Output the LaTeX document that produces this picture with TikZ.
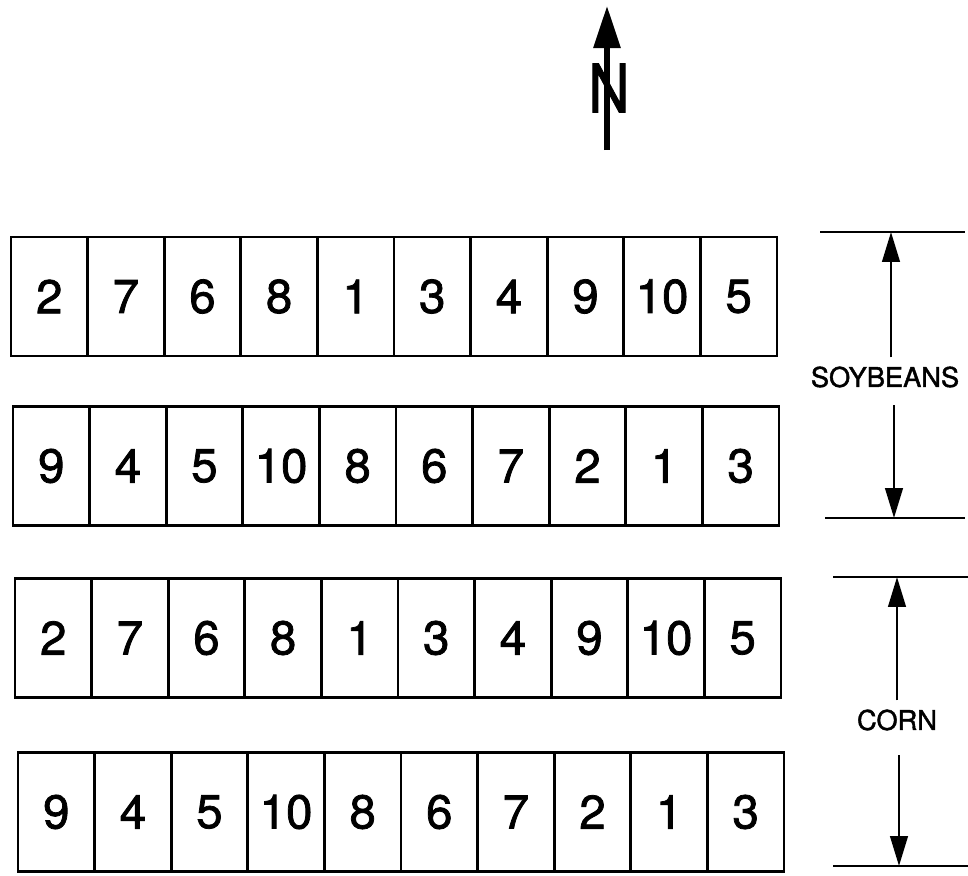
\documentclass[tikz,border=0pt]{standalone}
\usepackage{fontspec}
\setmainfont{TeX Gyre Heros}
\newfontfamily\leroyfont{TeX Gyre Heros}[FakeBold=1.6]
\usetikzlibrary{arrows.meta,positioning,calc}
\tikzset{
  plotcell/.style={draw=black,line width=1.6pt,minimum width=1.532cm,
    minimum height=2.38cm,inner sep=0pt,font=\leroyfont\fontsize{27}{27}\selectfont},
  dimline/.style={line width=1.3pt,draw=black},
  dimarrow/.style={-{Triangle[length=17pt,width=10pt]},line width=1.4pt,draw=black},
  croplabel/.style={font=\leroyfont\fontsize{15.5}{15.5}\selectfont,inner sep=5pt}
}
\begin{document}
\begin{tikzpicture}[x=0.02cm,y=-0.02cm]
\path[use as bounding box] (0,0) rectangle (968,876);
% north arrow
\node[font=\leroyfont\fontsize{38}{38}\selectfont,inner sep=0pt] (nletter) at (609,88) {\scalebox{0.85}[1]{N}};
\coordinate (nfoot) at (607,150);
\coordinate (ntip) at (607,6);
\draw[-{Triangle[length=24pt,width=15pt]},line width=3pt] (nfoot) -- (ntip);
% plots, soybeans
\foreach \v [count=\i] in {2,7,6,8,1,3,4,9,10,5}
  \node[plotcell] (ra\i) at ({11+(\i-0.5)*76.6},296.5) {\v};
\foreach \v [count=\i] in {9,4,5,10,8,6,7,2,1,3}
  \node[plotcell] (rb\i) at ({13+(\i-0.5)*76.6},466) {\v};
% plots, corn
\foreach \v [count=\i] in {2,7,6,8,1,3,4,9,10,5}
  \node[plotcell] (rc\i) at ({15+(\i-0.5)*76.6},638) {\v};
\foreach \v [count=\i] in {9,4,5,10,8,6,7,2,1,3}
  \node[plotcell] (rd\i) at ({18+(\i-0.5)*76.6},812) {\v};
% soybean extent
\coordinate (soytopL) at (820,232);
\coordinate (soytopR) at (965,232);
\coordinate (soybotL) at (825,518);
\coordinate (soybotR) at (965,518);
\draw[dimline] (soytopL) -- (soytopR);
\draw[dimline] (soybotL) -- (soybotR);
\node[croplabel] (soylabel) at (885,377) {SOYBEANS};
\coordinate (soyup) at (891,232);
\coordinate (soydown) at (894,518);
\draw[dimarrow] (soylabel.north -| soyup) -- (soyup);
\draw[dimarrow,shorten <=5pt] (soylabel.south -| soydown) -- (soydown);
% corn extent
\coordinate (corntopL) at (833,577);
\coordinate (corntopR) at (968,577);
\coordinate (cornbotL) at (833,866);
\coordinate (cornbotR) at (968,866);
\draw[dimline] (corntopL) -- (corntopR);
\draw[dimline] (cornbotL) -- (cornbotR);
\node[croplabel] (cornlabel) at (897,720) {CORN};
\coordinate (cornup) at (897,577);
\coordinate (corndown) at (899,866);
\draw[dimarrow] (cornlabel.north -| cornup) -- (cornup);
\draw[dimarrow,shorten <=9pt] (cornlabel.south -| corndown) -- (corndown);
\end{tikzpicture}
\end{document}
